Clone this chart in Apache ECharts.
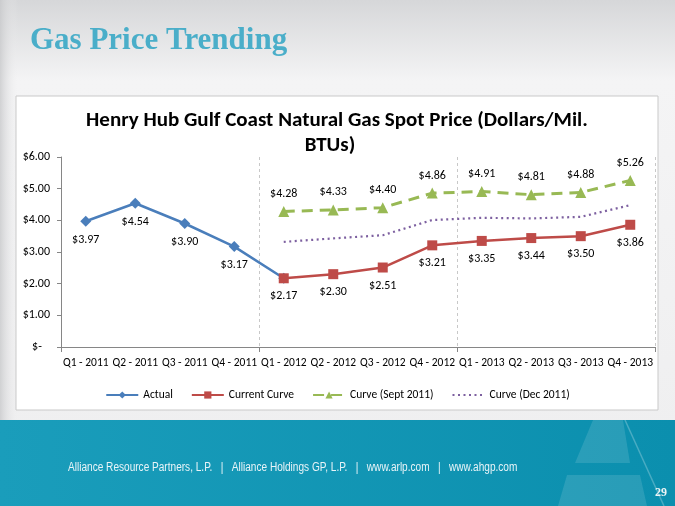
<!DOCTYPE html>
<html><head><meta charset="utf-8">
<script src="https://cdn.jsdelivr.net/npm/echarts@6/dist/echarts.min.js"></script>
<style>html,body{margin:0;padding:0;}#c{width:675px;height:506px;}</style>
</head><body><div id="c"></div>
<script>
const categories = ['Q1 - 2011','Q2 - 2011','Q3 - 2011','Q4 - 2011','Q1 - 2012','Q2 - 2012','Q3 - 2012','Q4 - 2012','Q1 - 2013','Q2 - 2013','Q3 - 2013','Q4 - 2013'];
const actual = [3.97, 4.54, 3.90, 3.17, 2.17, null, null, null, null, null, null, null];
const currentCurve = [null, null, null, null, 2.17, 2.30, 2.51, 3.21, 3.35, 3.44, 3.50, 3.86];
const curveSept2011 = [null, null, null, null, 4.28, 4.33, 4.40, 4.86, 4.91, 4.81, 4.88, 5.26];
const curveDec2011 = [null, null, null, null, 3.32, 3.43, 3.53, 4.01, 4.08, 4.06, 4.11, 4.48];
const yTicks = [0, 1, 2, 3, 4, 5, 6];

const F = 'Carlito, "Liberation Sans"';
const fmt = v => '$' + v.toFixed(2);
const chart = echarts.init(document.getElementById('c'));
chart.setOption({
  animation: false,
  backgroundColor: {type:'linear', x:0, y:0, x2:0, y2:1, colorStops:[{offset:0,color:'#d6d7d9'},{offset:0.16,color:'#f4f4f5'},{offset:1,color:'#eeeeef'}]},
  graphic: [
    {type:'rect', z:0, shape:{x:0, y:0, width:18, height:420}, style:{fill:{type:'linear',x:0,y:0,x2:1,y2:0,colorStops:[{offset:0,color:'rgba(200,201,203,0.8)'},{offset:1,color:'rgba(240,240,241,0)'}]}}},
    {type:'rect', z:0, shape:{x:16, y:96, width:642, height:314}, style:{fill:'#ffffff', stroke:'#c9c9c9', lineWidth:1}},
    {type:'rect', z:0, shape:{x:0, y:420, width:675, height:86}, style:{fill:{type:'linear',x:0,y:0,x2:1,y2:0,colorStops:[{offset:0,color:'#1a9dbb'},{offset:1,color:'#0b8fae'}]}}},
    {type:'polygon', z:0, shape:{points:[[593,420],[623,420],[630,463],[575,463]]}, style:{fill:'rgba(255,255,255,0.12)'}},
    {type:'polygon', z:0, shape:{points:[[567,475],[640,475],[647,506],[558,506]]}, style:{fill:'rgba(255,255,255,0.12)'}},
    {type:'line', z:0, shape:{x1:625, y1:420, x2:664, y2:506}, style:{stroke:'rgba(255,255,255,0.25)', lineWidth:1.5}},
    {type:'text', z:1, x:68, y:468, scaleX:0.84, style:{text:'Alliance Resource Partners, L.P.   |   Alliance Holdings GP, L.P.   |   www.arlp.com   |   www.ahgp.com', x:0, y:0, fill:'#e8f4f8', font:'12px "Liberation Sans"', textVerticalAlign:'middle'}},
    {type:'text', z:1, style:{text:'29', x:655, y:493, fill:'#eef5f6', font:'bold 12px "Liberation Serif"', textVerticalAlign:'middle'}},
    {type:'text', z:1, style:{text:'Gas Price Trending', x:30, y:41, fill:'#4aaec9', font:'bold 31px "Liberation Serif"', textVerticalAlign:'middle'}},
    {type:'text', z:1, style:{text:'Henry Hub Gulf Coast Natural Gas Spot Price (Dollars/Mil.', x:337, y:121, fill:'#000', font:'bold 21px Carlito, "Liberation Sans"', textAlign:'center', textVerticalAlign:'middle'}},
    {type:'text', z:1, style:{text:'BTUs)', x:330, y:146, fill:'#000', font:'bold 21px Carlito, "Liberation Sans"', textAlign:'center', textVerticalAlign:'middle'}}
  ],
  legend: {
    top: 384, left: 'center', itemWidth: 32, itemHeight: 9, itemGap: 18,
    textStyle: {fontFamily:F, fontSize:11.5, color:'#000'},
    data: ['Actual','Current Curve','Curve (Sept 2011)', {name:'Curve (Dec 2011)', itemStyle:{opacity:0}}]
  },
  grid: {left:61, right:20, top:157, bottom:159},
  xAxis: [
    {type:'category', data:categories, boundaryGap:true,
     axisLine:{lineStyle:{color:'#868686', width:1}}, axisTick:{show:false},
     axisLabel:{interval:0, fontFamily:F, fontSize:11.5, color:'#000', margin:10}},
    {type:'value', position:'bottom', min:0, max:12, interval:4,
     axisLine:{show:false}, axisLabel:{show:false},
     axisTick:{show:true, length:5, lineStyle:{color:'#868686'}},
     splitLine:{show:true, lineStyle:{color:'#c8c8c8', type:[3,3], width:1}}}
  ],
  yAxis: {type:'value', min:yTicks[0], max:yTicks[yTicks.length-1], interval:1,
    axisLine:{show:true, lineStyle:{color:'#868686'}}, axisTick:{show:true, length:4},
    splitLine:{show:false},
    axisLabel:{fontFamily:F, fontSize:12, color:'#000', margin:11, formatter: v => v === 0 ? '$-   ' : fmt(v)}},
  series: [
    {name:'Actual', type:'line', data:actual, color:'#4a7ebb', symbol:'diamond', symbolSize:11,
     lineStyle:{width:2.5}, z:3,
     label:{show:true, position:'bottom', distance:7, fontFamily:F, fontSize:12, color:'#000',
       formatter: p => p.dataIndex === 4 ? '' : fmt(p.value)}},
    {name:'Current Curve', type:'line', data:currentCurve, color:'#be4b48', symbol:'rect', symbolSize:10,
     lineStyle:{width:2.5}, z:4,
     label:{show:true, position:'bottom', distance:7, fontFamily:F, fontSize:12, color:'#000', formatter: p => fmt(p.value)}},
    {name:'Curve (Sept 2011)', type:'line', data:curveSept2011, color:'#98b954', symbol:'triangle', symbolSize:11,
     lineStyle:{width:3, type:[11,7]}, z:4,
     label:{show:true, position:'top', distance:6, fontFamily:F, fontSize:12, color:'#000', formatter: p => fmt(p.value)}},
    {name:'Curve (Dec 2011)', type:'line', data:curveDec2011, color:'#7d60a0', symbol:'none',
     lineStyle:{width:2.2, type:[2,3.5]}, z:3}
  ]
});
</script></body></html>
